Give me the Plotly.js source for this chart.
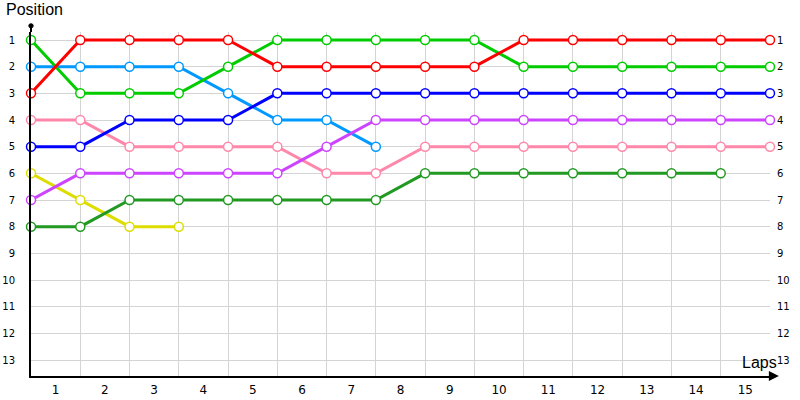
<!DOCTYPE html>
<html><head><meta charset="utf-8">
<script src="https://cdn.plot.ly/plotly-3.0.1.min.js"></script>
<style>html,body{margin:0;padding:0;background:#fff}#chart{width:800px;height:400px}</style>
</head><body><div id="chart"></div>
<script>
const laps = [0,1,2,3,4,5,6,7,8,9,10,11,12,13,14,15];
const lapLabels = ['1','2','3','4','5','6','7','8','9','10','11','12','13','14','15'];
const positions = [1,2,3,4,5,6,7,8,9,10,11,12,13];

const redPos       = [3,1,1,1,1,2,2,2,2,2,1,1,1,1,1,1];
const greenPos     = [1,3,3,3,2,1,1,1,1,1,2,2,2,2,2,2];
const lightBluePos = [2,2,2,2,3,4,4,5];
const bluePos      = [5,5,4,4,4,3,3,3,3,3,3,3,3,3,3,3];
const pinkPos      = [4,4,5,5,5,5,6,6,5,5,5,5,5,5,5,5];
const purplePos    = [7,6,6,6,6,6,5,4,4,4,4,4,4,4,4,4];
const yellowPos    = [6,7,8,8];
const darkGreenPos = [8,8,7,7,7,7,7,7,6,6,6,6,6,6,6];

const series = [
  {y: yellowPos, c: '#dddd00'},
  {y: darkGreenPos, c: '#229922'},
  {y: lightBluePos, c: '#0099ff'},
  {y: pinkPos, c: '#ff88aa'},
  {y: purplePos, c: '#cc44ff'},
  {y: bluePos, c: '#0000ff'},
  {y: greenPos, c: '#00cc00'},
  {y: redPos, c: '#ff0000'}
];

const traces = series.map(s => ({
  type: 'scatter', mode: 'lines+markers',
  x: laps.slice(0, s.y.length), y: s.y,
  line: {color: s.c, width: 3},
  marker: {symbol: 'circle', size: 9, color: '#ffffff', line: {color: s.c, width: 1.5}},
  hoverinfo: 'skip', showlegend: false, cliponaxis: false
}));
traces.push({type:'scatter', mode:'markers', x:[0], y:[1], yaxis:'y2', marker:{opacity:0}, showlegend:false, hoverinfo:'skip'});

const font = "Liberation Sans, Arial, sans-serif";
const tickFont = {family: "DejaVu Sans, Verdana, sans-serif", size: 10, color: '#000'};
const layout = {
  width: 800, height: 400,
  margin: {l: 31, r: 30, t: 32, b: 24},
  paper_bgcolor: '#fff', plot_bgcolor: '#fff',
  showlegend: false,
  xaxis: {
    range: [0, 15], showgrid: false, zeroline: false,
    showline: true, linecolor: '#000', linewidth: 2,
    tickmode: 'array', tickvals: laps.slice(0, 15).map(v => v + 0.5), ticktext: lapLabels,
    ticks: '', tickfont: {family: "DejaVu Sans, Verdana, sans-serif", size: 12, color: '#000'},
    ticklabelstandoff: 2,
    minor: {tickmode: 'array', tickvals: laps.slice(1), showgrid: true, gridcolor: '#d4d4d4', gridwidth: 1, ticks: ''}
  },
  yaxis: {
    range: [13.6, 0.7], tickmode: 'array', tickvals: positions, ticktext: positions.map(String),
    showgrid: true, gridcolor: '#d4d4d4', gridwidth: 1, zeroline: false,
    showline: true, linecolor: '#000', linewidth: 2, ticks: '',
    tickfont: tickFont, ticklabelstandoff: 12
  },
  yaxis2: {
    overlaying: 'y', side: 'right', range: [13.6, 0.7],
    tickmode: 'array', tickvals: positions, ticktext: positions.map(String),
    showgrid: false, zeroline: false, showline: false, ticks: '',
    tickfont: tickFont, ticklabelstandoff: 6
  },
  shapes: [
    {type: 'line', xref: 'paper', yref: 'paper', x0: 0, x1: 0, y0: 1, y1: 1.02, line: {color: '#000', width: 2}},
    {type: 'circle', xref: 'paper', yref: 'paper', x0: -0.003, x1: 0.003, y0: 1.012, y1: 1.024, fillcolor: '#000', line: {color: '#000', width: 1}},
    {type: 'line', xref: 'paper', yref: 'paper', x0: 1, x1: 1.008, y0: 0, y1: 0, line: {color: '#000', width: 2}}
  ],
  annotations: [
    {text: 'Position', xref: 'paper', yref: 'paper', x: -0.036, y: 1.035, xanchor: 'left', yanchor: 'bottom', showarrow: false, font: {family: font, size: 16, color: '#000'}},
    {text: 'Laps', xref: 'paper', yref: 'paper', x: 1.012, y: 0.01, xanchor: 'right', yanchor: 'bottom', showarrow: false, font: {family: font, size: 16, color: '#000'}},
    {text: '', xref: 'paper', yref: 'paper', x: 1.012, y: 0, ax: -8, ay: 0, showarrow: true, arrowhead: 2, arrowsize: 1, arrowwidth: 2, arrowcolor: '#000'}
  ]
};
Plotly.newPlot('chart', traces, layout, {displayModeBar: false, staticPlot: true});
</script></body></html>
